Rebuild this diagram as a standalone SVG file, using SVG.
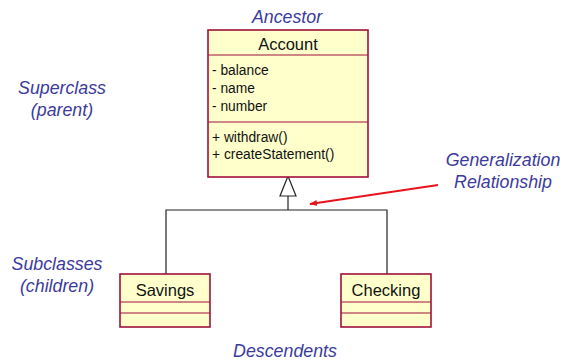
<svg xmlns="http://www.w3.org/2000/svg" width="564" height="363" viewBox="0 0 564 363">
  <style>
    .box { fill: #ffffcc; stroke: #a0103c; stroke-width: 1.6; }
    .div { stroke: #a0103c; stroke-width: 1.2; }
    .name { font-family: "Liberation Sans", Arial, sans-serif; font-size: 16.5px; fill: #111; text-anchor: middle; }
    .member { font-family: "Liberation Sans", Arial, sans-serif; font-size: 13.8px; fill: #111; }
    .note { font-family: "Liberation Sans", Arial, sans-serif; font-size: 17.8px; font-style: italic; fill: #3b3b9c; text-anchor: middle; }
    .link { fill: none; stroke: #222; stroke-width: 1.2; }
  </style>
  <defs>
    <marker id="redHead" markerWidth="8" markerHeight="6" refX="7" refY="3" orient="auto" markerUnits="userSpaceOnUse">
      <path d="M0,0 L8,3 L0,6 Z" fill="#e8141c"/>
    </marker>
  </defs>

  <rect width="564" height="363" fill="#ffffff"/>

  <!-- side annotations -->
  <g id="labels">
    <text class="note" x="287" y="23">Ancestor</text>
    <text class="note" x="62" y="94">Superclass</text>
    <text class="note" x="62" y="116">(parent)</text>
    <text class="note" x="503" y="166">Generalization</text>
    <text class="note" x="503" y="188">Relationship</text>
    <text class="note" x="57" y="270">Subclasses</text>
    <text class="note" x="57" y="292">(children)</text>
    <text class="note" x="285" y="357">Descendents</text>
  </g>

  <!-- inheritance connectors -->
  <g id="connectors">
    <polyline class="link" points="166,274 166,210 387,210 387,274"/>
    <line class="link" x1="288" y1="210" x2="288" y2="196"/>
    <polygon points="288,176 280,196 296,196" fill="#ffffff" stroke="#222" stroke-width="1.2"/>
    <line x1="438" y1="185" x2="310" y2="204" stroke="#e8141c" stroke-width="2" marker-end="url(#redHead)"/>
  </g>

  <!-- Account superclass -->
  <g id="account">
    <rect class="box" x="208" y="30" width="160" height="147"/>
    <line class="div" x1="208" y1="55" x2="368" y2="55"/>
    <line class="div" x1="208" y1="122" x2="368" y2="122"/>
    <text class="name" x="288" y="50">Account</text>
    <text class="member" x="212" y="75">- balance</text>
    <text class="member" x="212" y="93">- name</text>
    <text class="member" x="212" y="111">- number</text>
    <text class="member" x="212" y="142">+ withdraw()</text>
    <text class="member" x="212" y="159">+ createStatement()</text>
  </g>

  <!-- Savings subclass -->
  <g id="savings">
    <rect class="box" x="120" y="274" width="90" height="53"/>
    <line class="div" x1="120" y1="302" x2="210" y2="302"/>
    <line class="div" x1="120" y1="313" x2="210" y2="313"/>
    <text class="name" x="165" y="296">Savings</text>
  </g>

  <!-- Checking subclass -->
  <g id="checking">
    <rect class="box" x="341" y="274" width="90" height="53"/>
    <line class="div" x1="341" y1="302" x2="431" y2="302"/>
    <line class="div" x1="341" y1="313" x2="431" y2="313"/>
    <text class="name" x="386" y="296">Checking</text>
  </g>
</svg>
